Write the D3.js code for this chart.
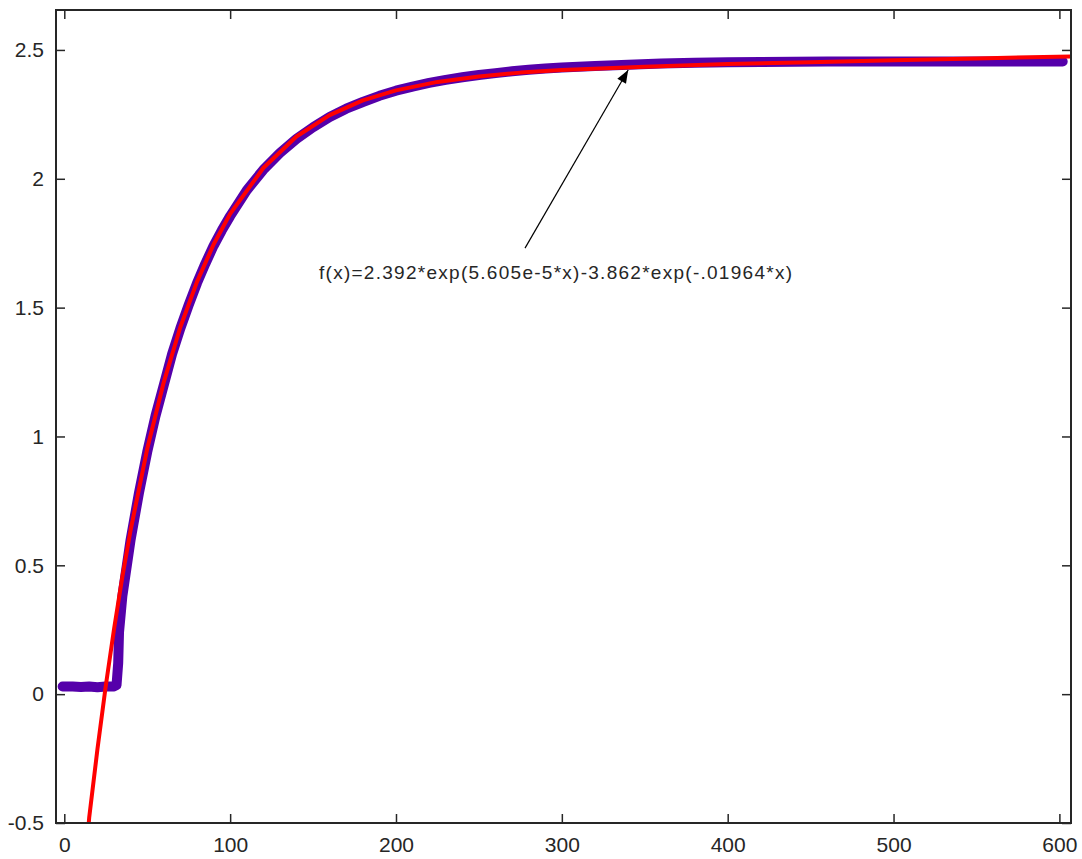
<!DOCTYPE html>
<html>
<head>
<meta charset="utf-8">
<script src="https://cdn.jsdelivr.net/npm/d3@7"></script>
<style>
  html, body { margin: 0; padding: 0; background: #fff; }
  svg { display: block; }
  .lbl { font-family: "Liberation Sans", Arial, sans-serif; fill: #262626; }
</style>
</head>
<body>
<svg id="chart" width="1082" height="859"></svg>
<script>
// ---- data ----
const xTicks = [0, 100, 200, 300, 400, 500, 600];
const yTicks = [-0.5, 0, 0.5, 1, 1.5, 2, 2.5];
const yTickLabels = ["-0.5", "0", "0.5", "1", "1.5", "2", "2.5"];

// measured data (purple band)
const dataX = [-1, 5, 10, 15, 20, 25, 30, 31.5, 32.5, 33, 35, 40, 45, 50, 55, 60, 65, 70, 75, 80, 85, 90, 95, 100,
  110, 120, 130, 140, 150, 160, 170, 180, 190, 200, 210, 220, 230, 240, 250, 260, 270, 280, 290, 300,
  320, 340, 360, 380, 400, 420, 440, 460, 480, 500, 520, 540, 560, 580, 602];
const dataY = [0.03, 0.03, 0.028, 0.03, 0.027, 0.03, 0.03, 0.035, 0.12, 0.24, 0.38, 0.6, 0.78, 0.94, 1.08, 1.2, 1.32, 1.42, 1.51, 1.595, 1.67, 1.74, 1.80, 1.855,
  1.955, 2.035, 2.10, 2.155, 2.2, 2.24, 2.272, 2.298, 2.322, 2.342, 2.358, 2.372, 2.384, 2.394, 2.403, 2.41, 2.417, 2.423, 2.428, 2.432,
  2.438, 2.443, 2.447, 2.45, 2.452, 2.453, 2.454, 2.455, 2.455, 2.455, 2.455, 2.455, 2.455, 2.455, 2.455];

// fitted curve (red)
const fitX = [14.5, 15, 20, 25, 30, 35, 40, 50, 60, 70, 80, 90, 100, 120, 140, 160, 180, 200, 225, 250, 275, 300, 350, 400, 450, 500, 550, 607];
const fitY = [-0.52, -0.48, -0.213, 0.032, 0.253, 0.455, 0.637, 0.952, 1.211, 1.425, 1.600, 1.745, 1.864, 2.042, 2.164, 2.247, 2.304, 2.343, 2.376, 2.397, 2.412, 2.422, 2.435, 2.445, 2.452, 2.460, 2.467, 2.475];

const annotationText = "f(x)=2.392*exp(5.605e-5*x)-3.862*exp(-.01964*x)";
const arrowFrom = [277.8, 1.731];   // data coords of arrow tail
const arrowTo = [340, 2.422];       // data coords of arrow tip

// ---- layout ----
const svg = d3.select("#chart");
const L = 56, R = 1071, T = 10, B = 823;
const x = d3.scaleLinear().domain([-5, 607]).range([L, R]);
const y = d3.scaleLinear().domain([-0.5, 2.655]).range([B, T]);

const ink = "#262626";
const tickLen = 9;

svg.append("defs").append("clipPath").attr("id", "clip")
  .append("rect").attr("x", L).attr("y", T).attr("width", R - L).attr("height", B - T);

const plot = svg.append("g").attr("clip-path", "url(#clip)");

const dataPts = dataX.map((d, i) => [d, dataY[i]]);
const fitPts = fitX.map((d, i) => [d, fitY[i]]);
const line = d3.line().x(d => x(d[0])).y(d => y(d[1]));

plot.append("path").attr("d", line(dataPts))
  .attr("fill", "none").attr("stroke", "#5500aa").attr("stroke-width", 10)
  .attr("stroke-linejoin", "round").attr("stroke-linecap", "round");

plot.append("path").attr("d", line(fitPts))
  .attr("fill", "none").attr("stroke", "#ff0000").attr("stroke-width", 4)
  .attr("stroke-linejoin", "round");

// axes (ticks inward, mirrored)
const axB = d3.axisBottom(x).tickValues(xTicks).tickSizeInner(-tickLen).tickSizeOuter(0).tickPadding(14).tickFormat(d3.format("d"));
const axT = d3.axisTop(x).tickValues(xTicks).tickSizeInner(-tickLen).tickSizeOuter(0).tickFormat("");
const axL = d3.axisLeft(y).tickValues(yTicks).tickSizeInner(-tickLen).tickSizeOuter(0).tickPadding(12).tickFormat((d, i) => yTickLabels[i]);
const axR = d3.axisRight(y).tickValues(yTicks).tickSizeInner(-tickLen).tickSizeOuter(0).tickFormat("");

function style(g) {
  g.select(".domain").remove();
  g.selectAll("line").attr("stroke", ink).attr("stroke-width", 1.5);
  g.selectAll("text").attr("class", "lbl").attr("font-size", 21).attr("fill", ink);
}
svg.append("g").attr("transform", `translate(0,${B})`).call(axB).call(style);
svg.append("g").attr("transform", `translate(0,${T})`).call(axT).call(style);
svg.append("g").attr("transform", `translate(${L},0)`).call(axL).call(style);
svg.append("g").attr("transform", `translate(${R},0)`).call(axR).call(style);

svg.append("rect").attr("x", L).attr("y", T).attr("width", R - L).attr("height", B - T)
  .attr("fill", "none").attr("stroke", ink).attr("stroke-width", 2);

// annotation arrow
const ax1 = x(arrowFrom[0]), ay1 = y(arrowFrom[1]);
const ax2 = x(arrowTo[0]), ay2 = y(arrowTo[1]);
svg.append("line").attr("x1", ax1).attr("y1", ay1).attr("x2", ax2).attr("y2", ay2)
  .attr("stroke", "#000").attr("stroke-width", 1.2);
const ang = Math.atan2(ay2 - ay1, ax2 - ax1);
const hl = 13, hw = 5;
const bx = ax2 - hl * Math.cos(ang), by = ay2 - hl * Math.sin(ang);
const px = -Math.sin(ang), py = Math.cos(ang);
svg.append("path")
  .attr("d", `M${ax2},${ay2} L${bx + hw * px},${by + hw * py} L${bx - hw * px},${by - hw * py} Z`)
  .attr("fill", "#000");

svg.append("text").attr("class", "lbl")
  .attr("x", 319).attr("y", 279)
  .attr("font-size", 19).attr("fill", "#1a1a1a")
  .attr("textLength", 473).attr("lengthAdjust", "spacing")
  .text(annotationText);
</script>
</body>
</html>
